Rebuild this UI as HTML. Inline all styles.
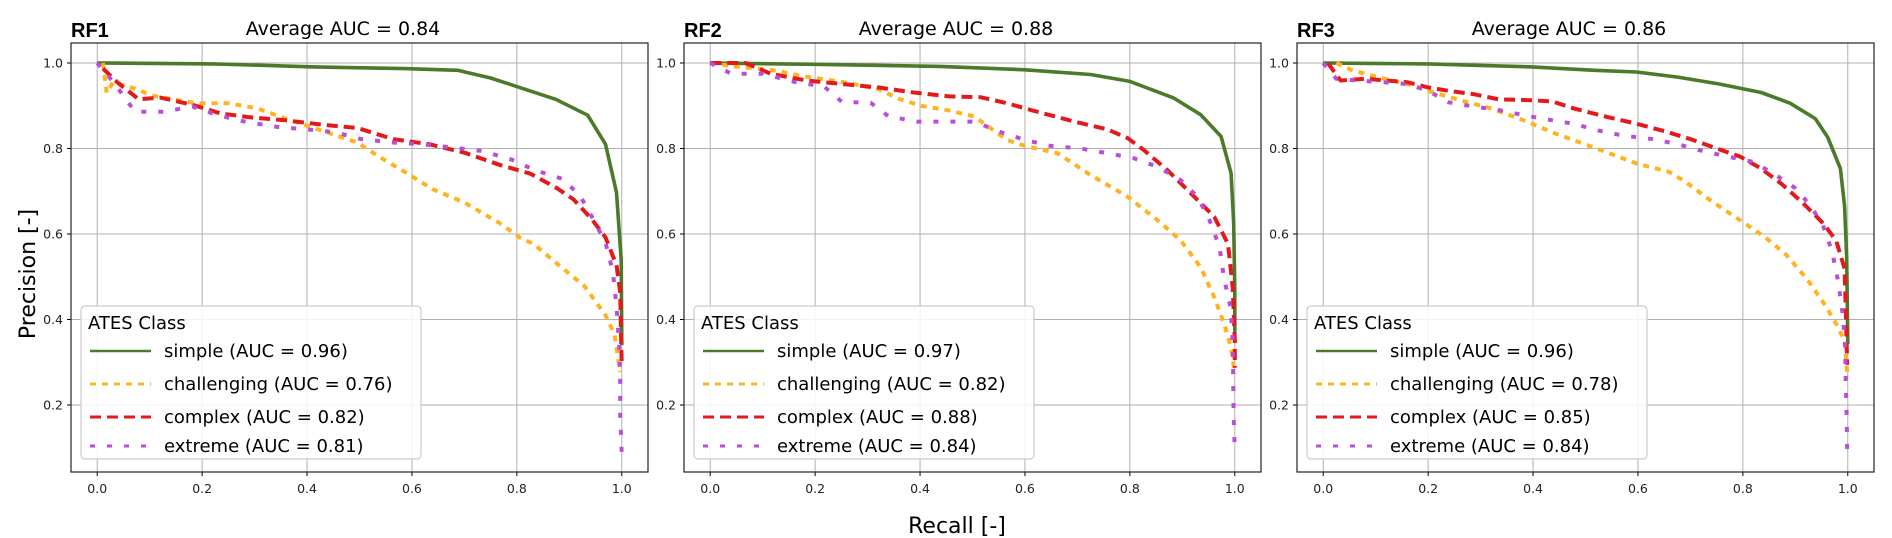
<!DOCTYPE html>
<html><head><meta charset="utf-8">
<style>
html,body{margin:0;padding:0;background:#fff;}
svg{display:block;font-family:"DejaVu Sans","Liberation Sans",sans-serif;}
</style></head>
<body>
<svg id="fig" width="1892" height="538" viewBox="0 0 1892 538"></svg>
<script>
const panelNames = ["RF1","RF2","RF3"];
const avgAuc = ["0.84","0.88","0.86"];
const classNames = ["simple","challenging","complex","extreme"];
const classAuc = [["0.96","0.76","0.82","0.81"],["0.97","0.82","0.88","0.84"],["0.96","0.78","0.85","0.84"]];
const xTicks = [0,0.2,0.4,0.6,0.8,1.0];
const yTicks = [0.2,0.4,0.6,0.8,1.0];

const rf1Simple = [[0,1],[0.223,0.998],[0.414,0.991],[0.585,0.987],[0.687,0.983],[0.75,0.965],[0.805,0.943],[0.874,0.915],[0.935,0.878],[0.969,0.81],[0.99,0.697],[0.999,0.54],[1.0,0.34]];
const rf1Chall = [[0.011,1.0],[0.018,0.93],[0.03,0.955],[0.072,0.94],[0.107,0.923],[0.189,0.906],[0.25,0.906],[0.305,0.894],[0.359,0.87],[0.428,0.842],[0.496,0.814],[0.537,0.781],[0.592,0.741],[0.639,0.705],[0.701,0.673],[0.769,0.624],[0.805,0.592],[0.833,0.576],[0.88,0.527],[0.928,0.479],[0.969,0.41],[0.986,0.366],[0.997,0.277]];
const rf1Complex = [[0.011,0.987],[0.038,0.955],[0.079,0.915],[0.12,0.919],[0.182,0.902],[0.236,0.882],[0.291,0.873],[0.359,0.866],[0.428,0.856],[0.496,0.848],[0.564,0.822],[0.633,0.81],[0.701,0.79],[0.769,0.761],[0.826,0.741],[0.874,0.709],[0.908,0.681],[0.942,0.636],[0.969,0.592],[0.99,0.527],[0.997,0.463],[0.999,0.342],[1.0,0.293]];
const rf1Extreme = [[0,1.0],[0.031,0.955],[0.072,0.886],[0.127,0.886],[0.182,0.898],[0.23,0.878],[0.284,0.862],[0.346,0.85],[0.407,0.844],[0.455,0.838],[0.503,0.822],[0.564,0.814],[0.619,0.81],[0.68,0.802],[0.735,0.794],[0.79,0.774],[0.835,0.749],[0.887,0.729],[0.921,0.689],[0.945,0.636],[0.969,0.58],[0.983,0.511],[0.99,0.431],[0.995,0.342],[0.997,0.261],[0.997,0.173],[1.0,0.084]];

const rf2Simple = [[0,1],[0.2,0.997],[0.439,0.992],[0.6,0.984],[0.725,0.973],[0.8,0.957],[0.884,0.918],[0.935,0.879],[0.974,0.828],[0.993,0.742],[0.998,0.624],[1.0,0.467],[1.0,0.35]];
const rf2Chall = [[0,1],[0.046,0.992],[0.115,0.984],[0.183,0.968],[0.251,0.956],[0.32,0.939],[0.36,0.916],[0.402,0.9],[0.456,0.889],[0.503,0.875],[0.566,0.82],[0.6,0.806],[0.662,0.789],[0.725,0.738],[0.796,0.687],[0.853,0.632],[0.897,0.585],[0.935,0.522],[0.961,0.452],[0.98,0.389],[0.993,0.334],[1.0,0.272]];
const rf2Complex = [[0,1],[0.067,1],[0.115,0.975],[0.183,0.959],[0.251,0.951],[0.32,0.943],[0.388,0.931],[0.456,0.922],[0.515,0.92],[0.566,0.906],[0.611,0.89],[0.694,0.863],[0.757,0.845],[0.796,0.824],[0.827,0.796],[0.872,0.749],[0.923,0.687],[0.961,0.64],[0.987,0.577],[0.996,0.475],[1.0,0.35],[1.0,0.287]];
const rf2Extreme = [[0,1],[0.04,0.975],[0.1,0.975],[0.163,0.955],[0.217,0.945],[0.251,0.909],[0.306,0.907],[0.34,0.875],[0.395,0.863],[0.449,0.863],[0.503,0.863],[0.552,0.839],[0.6,0.82],[0.649,0.806],[0.706,0.8],[0.757,0.789],[0.808,0.777],[0.853,0.757],[0.897,0.726],[0.929,0.687],[0.952,0.632],[0.971,0.569],[0.979,0.499],[0.992,0.428],[0.996,0.35],[0.997,0.256],[0.998,0.17],[1.0,0.092]];

const rf3Simple = [[0,1],[0.2,0.998],[0.398,0.991],[0.517,0.983],[0.597,0.979],[0.676,0.967],[0.755,0.951],[0.835,0.931],[0.89,0.906],[0.938,0.87],[0.962,0.826],[0.986,0.753],[0.994,0.665],[0.998,0.544],[1.0,0.342]];
const rf3Chall = [[0.025,1],[0.056,0.983],[0.104,0.967],[0.16,0.951],[0.2,0.935],[0.255,0.915],[0.319,0.894],[0.382,0.866],[0.445,0.834],[0.517,0.802],[0.597,0.765],[0.66,0.745],[0.692,0.721],[0.74,0.677],[0.795,0.632],[0.843,0.592],[0.882,0.552],[0.922,0.495],[0.954,0.439],[0.978,0.39],[0.994,0.35],[0.999,0.277]];
const rf3Complex = [[0.009,1],[0.033,0.959],[0.08,0.963],[0.16,0.955],[0.2,0.943],[0.239,0.935],[0.287,0.927],[0.334,0.915],[0.398,0.913],[0.437,0.91],[0.477,0.894],[0.541,0.874],[0.597,0.858],[0.652,0.84],[0.7,0.822],[0.755,0.798],[0.795,0.781],[0.835,0.753],[0.874,0.717],[0.914,0.673],[0.954,0.624],[0.978,0.584],[0.994,0.519],[0.996,0.423],[0.999,0.294]];
const rf3Extreme = [[0,1],[0.025,0.963],[0.064,0.959],[0.112,0.955],[0.16,0.951],[0.2,0.935],[0.239,0.908],[0.287,0.898],[0.334,0.89],[0.382,0.878],[0.437,0.866],[0.477,0.858],[0.525,0.842],[0.573,0.83],[0.628,0.822],[0.676,0.81],[0.724,0.794],[0.771,0.781],[0.819,0.769],[0.859,0.741],[0.898,0.709],[0.93,0.665],[0.954,0.616],[0.97,0.56],[0.982,0.487],[0.99,0.415],[0.995,0.342],[0.996,0.261],[0.998,0.173],[0.999,0.084]];

const seriesByPanel = [[rf1Simple,rf1Chall,rf1Complex,rf1Extreme],[rf2Simple,rf2Chall,rf2Complex,rf2Extreme],[rf3Simple,rf3Chall,rf3Complex,rf3Extreme]];

const NS="http://www.w3.org/2000/svg";
const svg=document.getElementById('fig');
const styles=[{c:"#4a7a2a",d:"",w:3.6},{c:"#ffb41f",d:"6,6",w:4},{c:"#e31a1c",d:"11,6",w:4},{c:"#b84fd6",d:"5,12",w:4}];
function mk(tag,attrs,parent){const e=document.createElementNS(NS,tag);for(const k in attrs)e.setAttribute(k,attrs[k]);(parent||svg).appendChild(e);return e;}

const AX_L0=71, AX_W=577, AX_T=43, AX_B=472, STEP=613;
for(let p=0;p<3;p++){
  const L=AX_L0+p*STEP, R=L+AX_W;
  const xs=v=>L+(v+0.05)/1.1*AX_W;
  const ys=v=>AX_T+(1.0468-v)/(1.0468-0.0433)*(AX_B-AX_T);
  const g=mk('g',{});
  
  
  // grid
  xTicks.forEach(t=>{const l=mk('line',{x1:xs(t),x2:xs(t),y1:AX_T,y2:AX_B,stroke:"#b0b0b0","stroke-width":1},g);
    
    const tk=mk('line',{x1:xs(t),x2:xs(t),y1:AX_B,y2:AX_B+4,stroke:"#000","stroke-width":1},g);
    
    const tx=mk('text',{x:xs(t),y:AX_B+21,"text-anchor":"middle","font-size":"12.5",fill:"#222"},g);tx.textContent=t.toFixed(1);
    });
  yTicks.forEach(t=>{const l=mk('line',{x1:L,x2:R,y1:ys(t),y2:ys(t),stroke:"#b0b0b0","stroke-width":1},g);
    
    const tk=mk('line',{x1:L-4,x2:L,y1:ys(t),y2:ys(t),stroke:"#000","stroke-width":1},g);
    
    const tx=mk('text',{x:L-8,y:ys(t)+4.5,"text-anchor":"end","font-size":"12.5",fill:"#222"},g);tx.textContent=t.toFixed(1);
    });
  // series
  seriesByPanel[p].forEach((pts,i)=>{
    const d=pts.map((q,j)=>(j?'L':'M')+xs(q[0]).toFixed(1)+','+ys(q[1]).toFixed(1)).join(' ');
    const path=mk('path',{d:d,fill:"none",stroke:styles[i].c,"stroke-width":styles[i].w,"stroke-dasharray":styles[i].d||"none","stroke-linejoin":"round"},g);
    
    
  });
  const frame=mk('rect',{x:L,y:AX_T,width:AX_W,height:AX_B-AX_T,fill:"none",stroke:"#222","stroke-width":1.2},g);
  
  // titles
  const pt=mk('text',{x:L,y:37,"font-size":"20","font-weight":"bold","font-family":"Liberation Sans, sans-serif",fill:"#000"},g);pt.textContent=panelNames[p];
  
  const tt=mk('text',{x:L+272,y:35,"text-anchor":"middle","font-size":"19",fill:"#000"},g);tt.textContent="Average AUC = "+avgAuc[p];
  
  // legend
  const lg=mk('g',{},g);
  
  mk('rect',{x:L+10,y:306,width:340,height:153,rx:4,fill:"#fff","fill-opacity":0.85,stroke:"#cccccc","stroke-width":1.2},lg);
  const lt=mk('text',{x:L+17,y:329,"font-size":"18",fill:"#000"},lg);lt.textContent="ATES Class";
  
  const base=[357,390,423,452];
  classNames.forEach((n,i)=>{
    const e=mk('g',{},lg);
    
    
    mk('line',{x1:L+19,x2:L+80,y1:base[i]-6,y2:base[i]-6,stroke:styles[i].c,"stroke-width":styles[i].w-1,"stroke-dasharray":styles[i].d||"none"},e);
    const t=mk('text',{x:L+93,y:base[i],"font-size":"18",fill:"#000"},e);t.textContent=n+" (AUC = "+classAuc[p][i]+")";
  });
}
const yl=mk('text',{x:0,y:0,transform:"translate(35,274) rotate(-90)","text-anchor":"middle","font-size":"22",fill:"#000"});yl.textContent="Precision [-]";

const xl=mk('text',{x:957,y:533,"text-anchor":"middle","font-size":"22",fill:"#000"});xl.textContent="Recall [-]";

</script>
</body></html>
